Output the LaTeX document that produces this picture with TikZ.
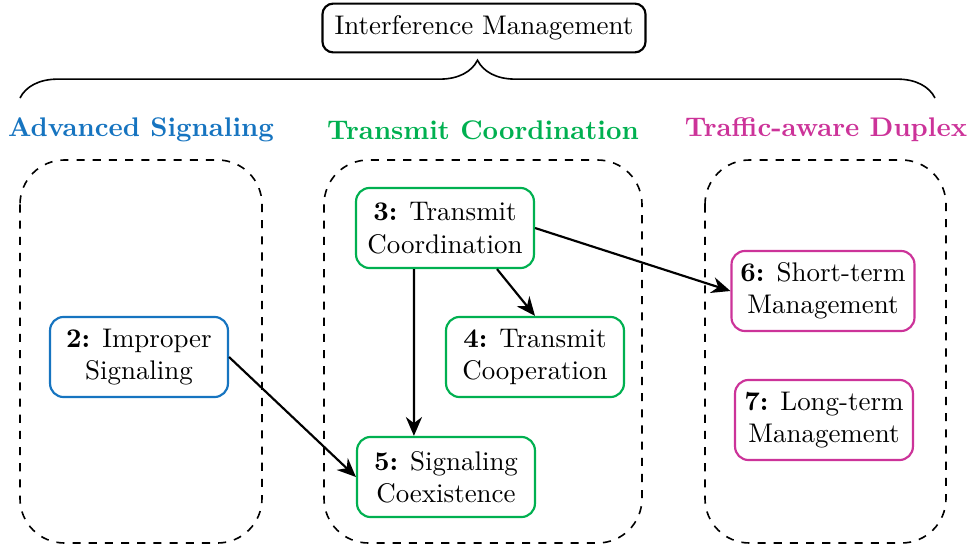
\documentclass[tikz,border=0pt]{standalone}
\usetikzlibrary{decorations.pathreplacing,arrows.meta}
\definecolor{sigblue}{RGB}{22,116,192}
\definecolor{tcgreen}{RGB}{0,176,80}
\definecolor{dupmag}{RGB}{204,51,153}
\begin{document}
\begin{tikzpicture}[x=0.371pt, y=-0.371pt,
        box/.style={draw=#1, thick, rounded corners=5pt, align=center,
            minimum width=66pt, minimum height=29.7pt, fill=white},
        group/.style={draw, semithick, dashed, rounded corners=16.5pt},
        title/.style={font=\bfseries},
        arr/.style={-{Stealth[length=7pt,width=6pt]}, thick}]
    \useasboundingbox (0,0) rectangle (972,548);
    \node[draw, thick, rounded corners=4pt, inner sep=4.5pt, minimum height=17.5pt] (im) at (484,28) {Interference Management};
    \draw[decorate, decoration={brace, amplitude=14pt}, semithick] (20,98) -- (935,98);
    \draw[group] (20,160) rectangle (262,543);
    \draw[group] (324,160) rectangle (642,543);
    \draw[group] (705,160) rectangle (946,543);
    \node[title, text=sigblue] (ta) at (141,130) {Advanced Signaling};
    \node[title, text=tcgreen] (tb) at (483,130) {Transmit Coordination};
    \node[title, text=dupmag] (tc) at (826,130) {Traffic-aware Duplex};
    \node[box=sigblue] (n2) at (139,357) {\textbf{2:} Improper\\Signaling};
    \node[box=tcgreen] (n3) at (445,228) {\textbf{3:} Transmit\\Coordination};
    \node[box=tcgreen] (n4) at (535,357) {\textbf{4:} Transmit\\Cooperation};
    \node[box=tcgreen] (n5) at (446,477) {\textbf{5:} Signaling\\Coexistence};
    \node[box=dupmag] (n6) at (823,291) {\textbf{6:} Short-term\\Management};
    \node[box=dupmag] (n7) at (824,420) {\textbf{7:} Long-term\\Management};
    \draw[arr] ([xshift=-11.5pt]n3.south) -- ([xshift=-11.9pt]n5.north);
    \draw[arr] ([xshift=19.3pt]n3.south) -- (n4.north);
    \draw[arr] (n3.east) -- (n6.west);
    \draw[arr] (n2.east) -- (n5.west);
\end{tikzpicture}
\end{document}
